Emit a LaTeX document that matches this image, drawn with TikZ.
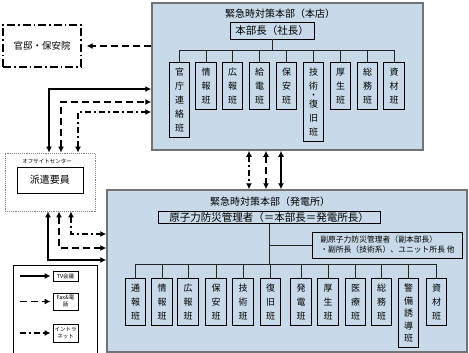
\documentclass[tikz,border=0pt]{standalone}
\usepackage{fontspec}
\setmainfont{Noto Sans CJK JP}
\usetikzlibrary{positioning, arrows.meta}
\definecolor{hqblue}{RGB}{200,218,233}

\begin{document}
\begin{tikzpicture}[
      x=1pt, y=-1pt,
      >={Latex[length=6pt,width=6pt]},
      hqbox/.style={
        rectangle,
        draw=black!55,
        line width=1.5pt,
        fill=hqblue,
      },
      hqtitle/.style={
        font=\fontsize{10}{12}\selectfont,
      },
      headbox/.style={
        rectangle,
        draw=black,
        line width=0.9pt,
        inner xsep=3pt,
        inner ysep=0.5pt,
        font=\fontsize{10.5}{12}\selectfont,
      },
      team/.style={
        rectangle,
        draw=black,
        line width=0.9pt,
        anchor=north,
        minimum width=20.5pt,
        inner xsep=1pt,
        inner ysep=5.5pt,
        align=center,
        font=\fontsize{9}{14}\selectfont,
      },
      wire/.style={
        draw=black!85,
        line width=0.8pt,
      },
      tvline/.style={line width=1.4pt},
      faxline/.style={line width=1.6pt, dash pattern=on 7pt off 4pt},
      netline/.style={line width=1.6pt, dash pattern=on 6pt off 3pt on 2pt off 3pt},
      legendbox/.style={
        rectangle,
        draw=black,
        line width=0.8pt,
        minimum width=25pt,
        inner sep=1pt,
        align=center,
        font=\fontsize{5.5}{7}\selectfont,
      }
    ]
      \useasboundingbox (0,0) rectangle (469,353);

      % head office
      \node[hqbox, minimum width=271pt, minimum height=147pt] (honten) at (287.5,76.5) {};
      \node[hqtitle] (hontenTitle) at (280,14) {緊急時対策本部（本店）};
      \node[headbox, minimum width=84pt, minimum height=17pt] (honbucho) at (272,30.5) {本部長（社長）};
      \coordinate (busTop) at (272,50);
      \draw[wire] (honbucho.south) -- (busTop);
      \foreach \x/\name [count=\i] in {179.5/{官\\庁\\連\\絡\\班}, 206/{情\\報\\班}, 232.5/{広\\報\\班},
          259.5/{給\\電\\班}, 286.5/{保\\安\\班}, 313.5/{技\\術\\[-5pt]・\\[-5pt]復\\旧\\班},
          340.5/{厚\\生\\班}, 367.5/{総\\務\\班}, 394/{資\\材\\班}} {
        \node[team] (hq\i) at (\x,62) {\name};
        \draw[wire] (hq\i.north) -- (hq\i.north |- busTop);
      }
      \draw[wire] (hq1.north |- busTop) -- (hq9.north |- busTop);

      % power station
      \node[hqbox, minimum width=360pt, minimum height=162pt] (hatsuden) at (287,271) {};
      \node[hqtitle] (hatsudenTitle) at (270,202) {緊急時対策本部（発電所）};
      \node[headbox, minimum width=222pt, minimum height=12pt] (kanrisha) at (269,217.5) {原子力防災管理者（＝本部長＝発電所長）};
      \node[rectangle, draw=black, line width=0.9pt, anchor=west, align=left,
            minimum width=150pt, minimum height=26pt, inner xsep=2pt,
            font=\fontsize{7.8}{10}\selectfont] (fuku) at (312,245)
            {副原子力防災管理者（副本部長）\\・副所長（技術系）、ユニット所長 他};
      \coordinate (busPlant) at (269,264);
      \draw[wire] (kanrisha.south) -- (busPlant);
      \draw[wire] (kanrisha.south |- fuku.west) -- (fuku.west);
      \foreach \x/\name [count=\i] in {135.5/{通\\報\\班}, 162/{情\\報\\班}, 188/{広\\報\\班},
          216/{保\\安\\班}, 243/{技\\術\\班}, 270.5/{復\\旧\\班}, 301/{発\\電\\班},
          328/{厚\\生\\班}, 355.5/{医\\療\\班}, 381.5/{総\\務\\班},
          408.5/{警\\[-1.5pt]備\\[-1.5pt]誘\\[-1.5pt]導\\[-1.5pt]班}, 436.5/{資\\材\\班}} {
        \node[team] (ps\i) at (\x,278) {\name};
        \draw[wire] (ps\i.north) -- (ps\i.north |- busPlant);
      }
      \draw[wire] (ps1.north |- busPlant) -- (ps12.north |- busPlant);

      % prime minister's office
      \node[rectangle, draw=black, line width=1.2pt, dash pattern=on 8pt off 3pt on 1.5pt off 3pt,
            minimum width=78pt, minimum height=42pt, font=\fontsize{9.5}{12}\selectfont] (kantei) at (42,46) {官邸・保安院};
      \draw[faxline, ->, shorten >=5pt] (honten.west |- kantei.east) -- (kantei.east);

      % off-site centre
      \node[rectangle, draw=black!50, densely dotted, line width=0.9pt,
            minimum width=90pt, minimum height=58pt] (offsite) at (50,182) {};
      \node[font=\fontsize{5.5}{7}\selectfont] (offsiteLabel) at (47,161) {オフサイトセンター};
      \node[rectangle, draw=black, line width=1pt, minimum width=66pt, minimum height=26pt,
            font=\fontsize{10}{12}\selectfont] (haken) at (50,180) {派遣要員};

      % links to head office
      \draw[tvline, <->] ([xshift=-1pt]offsite.north) |- (honten.west |- 0,89);
      \draw[faxline, <->] ([xshift=11pt]offsite.north) |- (honten.west |- 0,102);
      \draw[netline, <->] ([xshift=28pt]offsite.north) |- (honten.west |- 0,112);
      % links to power station
      \draw[tvline, <->] ([xshift=-2pt]offsite.south) |- (hatsuden.west |- 0,260);
      \draw[faxline, <->] ([xshift=9pt]offsite.south) |- (hatsuden.west |- 0,248);
      \draw[netline, <->] ([xshift=21pt]offsite.south) |- (hatsuden.west |- 0,234);
      % head office <-> power station
      \draw[netline, <->] (honten.south -| 249,0) -- (hatsuden.north -| 249,0);
      \draw[faxline, <->] (honten.south -| 266,0) -- (hatsuden.north -| 266,0);
      \draw[tvline, <->] (honten.south -| 281,0) -- (hatsuden.north -| 281,0);

      % legend
      \node[rectangle, draw=black, line width=0.9pt, fill=white, anchor=north west,
            minimum width=84pt, minimum height=95pt] (legend) at (13,265) {};
      \node[legendbox, minimum height=10pt] (lgTV) at (65.5,276) {TV会議};
      \node[legendbox, minimum height=17pt] (lgFax) at (65.5,301.5) {Fax\&電\\話};
      \node[legendbox, minimum height=18pt] (lgNet) at (65.5,333) {イントラ\\ネット};
      \draw[tvline, ->, shorten >=2pt] ([xshift=-33pt]lgTV.west) -- (lgTV.west);
      \draw[faxline, ->, shorten >=2pt] ([xshift=-33pt]lgFax.west) -- (lgFax.west);
      \draw[netline, ->, shorten >=2pt] ([xshift=-33pt]lgNet.west) -- (lgNet.west);
    \end{tikzpicture}
\end{document}
